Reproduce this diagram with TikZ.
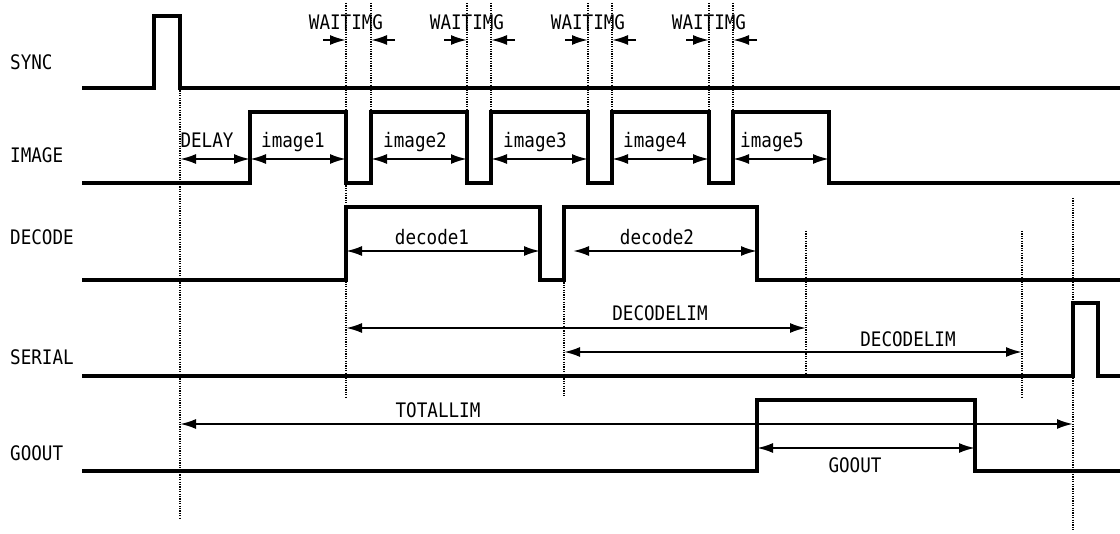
\documentclass[tikz,border=0pt]{standalone}
\usepackage{fontspec}
\newfontfamily\gothic[FakeStretch=0.88]{DejaVu Sans Mono}
\usetikzlibrary{arrows.meta}
\tikzset{
  wave/.style={line width=3.2pt},
  guide/.style={line width=1.2pt, dash pattern=on 1.2pt off 1.2pt},
  span/.style={line width=2pt, {Latex[length=16pt,width=10pt]}-{Latex[length=16pt,width=10pt]}},
  tip/.style={line width=2pt, -{Latex[length=16pt,width=10pt]}},
  lbl/.style={font=\gothic\fontsize{20}{20}\selectfont, inner sep=0pt, anchor=base},
  sig/.style={lbl, anchor=base west}
}
\begin{document}
\begin{tikzpicture}[x=1pt, y=-1pt]
    \useasboundingbox (0,0) rectangle (1120,534);

    % signal names
    \node[sig] (sync) at (10,70) {SYNC};
    \node[sig] (image) at (10,163) {IMAGE};
    \node[sig] (decode) at (10,245) {DECODE};
    \node[sig] (serial) at (10,365) {SERIAL};
    \node[sig] (goout) at (10,461) {GOOUT};

    % guides
    \draw[guide] (180,88) -- (180,518);
    \draw[guide] (346,3) -- (346,397);
    \foreach \x in {371,467,491,588,612,709,733}
      \draw[guide] (\x,3) -- (\x,112);
    \draw[guide] (564,280) -- (564,397);
    \draw[guide] (806,231) -- (806,376);
    \draw[guide] (1022,231) -- (1022,397);
    \draw[guide] (1073,198) -- (1073,530);

    % waveforms
    \draw[wave] (82,88) -| (154,16) -| (180,88) -- (1120,88);
    \draw[wave] (82,183) -| (250,112) -| (346,183) -| (371,112) -| (467,183)
      -| (491,112) -| (588,183) -| (612,112) -| (709,183) -| (733,112)
      -| (829,183) -- (1120,183);
    \draw[wave] (82,280) -| (346,207) -| (540,280) -| (564,207) -| (757,280) -- (1120,280);
    \draw[wave] (82,376) -| (1073,303) -| (1098,376) -- (1120,376);
    \draw[wave] (82,471) -| (757,400) -| (975,471) -- (1120,471);

    % waiting gaps
    \foreach \a/\b [count=\i] in {346/371, 467/491, 588/612, 709/733} {
      \node[lbl] (wait\i) at (\a,30) {WAITIMG};
      \coordinate (wl\i) at (\a-23,40);
      \coordinate (wa\i) at (\a,40);
      \coordinate (wb\i) at (\b,40);
      \coordinate (wr\i) at (\b+24,40);
      \draw[tip] (wl\i) -- (wa\i);
      \draw[tip] (wr\i) -- (wb\i);
    }

    % image spans
    \foreach \a/\b/\t/\c [count=\i] in {180/250/DELAY/207, 250/346/image1/293,
        371/467/image2/415, 491/588/image3/535, 612/709/image4/655, 733/829/image5/772} {
      \coordinate (img\i-l) at (\a,159);
      \coordinate (img\i-r) at (\b,159);
      \node[lbl] (imgtxt\i) at (\c,148) {\t};
      \draw[span] (img\i-l) -- (img\i-r);
    }

    % decode spans
    \coordinate (dec1-l) at (346,251);
    \coordinate (dec1-r) at (540,251);
    \coordinate (dec2-l) at (573,251);
    \coordinate (dec2-r) at (757,251);
    \node[lbl] (dectxt1) at (432,245) {decode1};
    \node[lbl] (dectxt2) at (657,245) {decode2};
    \draw[span] (dec1-l) -- (dec1-r);
    \draw[span] (dec2-l) -- (dec2-r);

    % limits
    \coordinate (lim1-l) at (346,328);
    \coordinate (lim1-r) at (806,328);
    \coordinate (lim2-l) at (564,352);
    \coordinate (lim2-r) at (1022,352);
    \coordinate (tot-l) at (180,424);
    \coordinate (tot-r) at (1073,424);
    \coordinate (out-l) at (757,448);
    \coordinate (out-r) at (975,448);
    \node[lbl] (limtxt1) at (660,321) {DECODELIM};
    \node[lbl] (limtxt2) at (908,347) {DECODELIM};
    \node[lbl] (tottxt) at (438,418) {TOTALLIM};
    \node[lbl] (outtxt) at (855,473) {GOOUT};
    \draw[span] (lim1-l) -- (lim1-r);
    \draw[span] (lim2-l) -- (lim2-r);
    \draw[span] (tot-l) -- (tot-r);
    \draw[span] (out-l) -- (out-r);
\end{tikzpicture}
\end{document}
